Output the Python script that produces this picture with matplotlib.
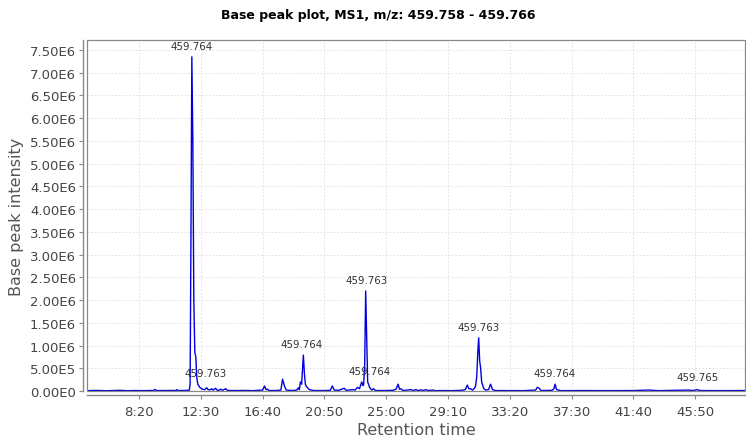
import math
import matplotlib
matplotlib.use("Agg")
import matplotlib.pyplot as plt
from matplotlib.ticker import FuncFormatter, MultipleLocator
from matplotlib.patches import Rectangle

# ---- data (retention time in seconds, base peak intensity) ----
rt_seconds = [
    290, 330, 370, 400, 423, 450, 480, 520, 560, 565,
    570, 620, 650, 654, 658, 690, 704, 707, 710, 714,
    718, 722, 726, 730, 734, 738, 746, 756, 766, 774,
    780, 788, 794, 800, 810, 816, 824, 831, 838, 851,
    858, 880, 920, 960, 1000, 1008, 1014, 1020, 1026, 1058,
    1074, 1081, 1089, 1096, 1118, 1138, 1145, 1149, 1153, 1158,
    1165, 1169, 1173, 1177, 1189, 1208, 1248, 1274, 1282, 1290,
    1308, 1330, 1338, 1366, 1374, 1384, 1392, 1401, 1406, 1409,
    1413, 1417, 1421, 1425, 1433, 1441, 1449, 1457, 1490, 1528,
    1540, 1548, 1554, 1560, 1568, 1601, 1608, 1621, 1628, 1641,
    1648, 1661, 1668, 1689, 1698, 1728, 1768, 1806, 1820, 1828,
    1834, 1841, 1849, 1857, 1861, 1866, 1870, 1874, 1878, 1882,
    1886, 1894, 1902, 1914, 1922, 1930, 1942, 1996, 2056, 2104,
    2111, 2119, 2126, 2171, 2178, 2183, 2189, 2206, 2300, 2400,
    2500, 2560, 2600, 2722, 2740, 2758, 2770, 2850, 2951,
]
intensity = [
    8e3, 1.2e4, 6e3, 1e4, 1.5e4, 7e3, 1e4, 8e3, 1.2e4, 3.5e4,
    1e4, 1e4, 1.2e4, 3e4, 1e4, 1.2e4, 2e4, 1.5e5, 3.0e6, 7.35e6,
    5.5e6, 2.0e6, 8.5e5, 7.5e5, 3.0e5, 1.5e5, 8e4, 4e4, 3e4, 7e4,
    3e4, 2.5e4, 5e4, 2e4, 6e4, 2e4, 1.5e4, 4e4, 1.5e4, 5e4,
    1.2e4, 1e4, 1.2e4, 8e3, 2e4, 1.1e5, 3e4, 4e4, 1e4, 1.2e4,
    2e4, 2.6e5, 1e5, 2e4, 1e4, 2e4, 7e4, 3e4, 2e5, 1.5e5,
    7.9e5, 4e5, 1.5e5, 1e5, 3e4, 1e4, 1e4, 1.5e4, 1.1e5, 2e4,
    1.5e4, 6e4, 1.5e4, 3e4, 2e4, 8e4, 5e4, 2e5, 1.2e5, 1.5e5,
    6e5, 2.2e6, 1.2e6, 2e5, 8e4, 2e4, 5e4, 1e4, 1e4, 1.5e4,
    4e4, 1.5e5, 4e4, 5e4, 1e4, 3e4, 1e4, 3e4, 1e4, 2.5e4,
    1e4, 3e4, 1e4, 2e4, 8e3, 1e4, 8e3, 1.5e4, 3e4, 1.3e5,
    5e4, 5e4, 2e4, 6e4, 1e5, 3e5, 8e5, 1.17e6, 6.6e5, 5e5,
    2e5, 6e4, 2e4, 3e4, 1.5e5, 3e4, 1e4, 1e4, 8e3, 2e4,
    8e4, 6e4, 1e4, 1.5e4, 5e4, 1.5e5, 3e4, 8e3, 1e4, 8e3,
    1e4, 2e4, 8e3, 2e4, 1e4, 3e4, 1e4, 8e3, 1e4,
]

# peak labels (m/z) and their anchor points
label_rt = [714, 770, 1158, 1421, 1432, 1874, 2183, 2758]
label_int = [7.35e6, 1.5e5, 7.9e5, 2.2e6, 2.0e5, 1.17e6, 1.5e5, 6e4]
label_text = ["459.764", "459.763", "459.764", "459.763",
              "459.764", "459.763", "459.764", "459.765"]

x_ticks = [500, 750, 1000, 1250, 1500, 1750, 2000, 2250, 2500, 2750]
title = "Base peak plot, MS1, m/z: 459.758 - 459.766"

# ---- figure ----
W, H = 746, 439
fig = plt.figure(figsize=(W / 100, H / 100), dpi=100)
ax = fig.add_axes([87 / W, (H - 392) / H, 658 / W, 351 / H])

ax.plot(rt_seconds, intensity, color="#0000dd", lw=1.0)

ax.set_xlim(290, 2951)
ax.set_ylim(0, 7.72e6)

ax.set_xticks(x_ticks)
ax.yaxis.set_major_locator(MultipleLocator(5e5))


def fmt_x(v, pos):
    m = int(v // 60)
    s = int(round(v - 60 * m))
    return f"{m}:{s:02d}"


def fmt_y(v, pos):
    if abs(v) < 1e-9:
        return "0.00E0"
    e = int(math.floor(math.log10(abs(v)) + 1e-9))
    return f"{v / 10 ** e:.2f}E{e}"


ax.xaxis.set_major_formatter(FuncFormatter(fmt_x))
ax.yaxis.set_major_formatter(FuncFormatter(fmt_y))

ax.grid(True, color="#d6d6d6", lw=0.5, ls=(0, (2.5, 2.5)))
ax.set_axisbelow(True)

for side in ("top", "right"):
    ax.spines[side].set_visible(False)
for side in ("left", "bottom"):
    ax.spines[side].set_position(("outward", 3))
    ax.spines[side].set_color("#888888")
    ax.spines[side].set_linewidth(1.0)

ax.add_patch(Rectangle((0, 0), 1, 1, transform=ax.transAxes, fill=False,
                       edgecolor="#888888", lw=0.9, clip_on=False, zorder=5))

ax.tick_params(axis="both", colors="#888888", length=3, width=0.8,
               labelsize=9.5, labelcolor="#444444")
ax.tick_params(axis="x", pad=4)
ax.tick_params(axis="y", pad=2)

ax.set_xlabel("Retention time", fontsize=11.5, color="#555555", labelpad=3)
ax.set_ylabel("Base peak intensity", fontsize=11.5, color="#555555", labelpad=4)

fig.text(378 / W, 1 - 15 / H, title, ha="center",
         va="center", fontsize=9, fontweight="bold", color="#000000")

for t, v, s in zip(label_rt, label_int, label_text):
    ax.annotate(s, xy=(t, v), xytext=(0, 4.3), textcoords="offset points",
                ha="center", va="bottom", fontsize=7.4, color="#333333")

fig.savefig("out.png", dpi=100)
